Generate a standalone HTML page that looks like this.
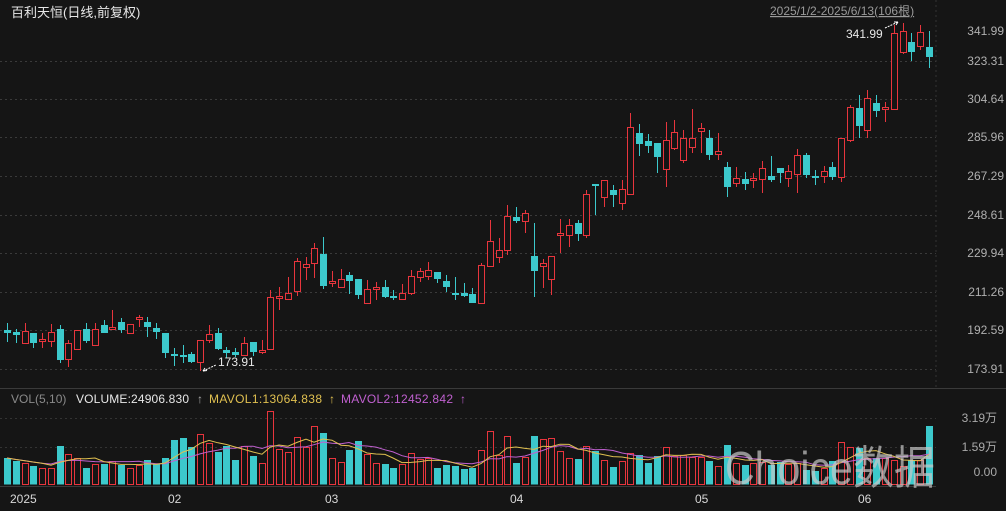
<!DOCTYPE html>
<html><head><meta charset="utf-8">
<style>
html,body{margin:0;padding:0;background:#151515;}
body{width:1006px;height:506px;overflow:hidden;font-family:"Liberation Sans","Noto Sans CJK SC",sans-serif;}
svg text{font-family:"Liberation Sans","Noto Sans CJK SC",sans-serif;}
</style></head>
<body>
<svg id="s" width="1006" height="506" xmlns="http://www.w3.org/2000/svg">
<rect width="1006" height="506" fill="#151515"/>
<g id="grid" stroke="#3a3a3a" stroke-dasharray="2,3" stroke-width="1"></g>
<line x1="936" y1="0" x2="936" y2="388" stroke="#333" stroke-dasharray="2,3"/>
<line x1="0" y1="388.5" x2="1006" y2="388.5" stroke="#3a3a3a"/>
<line x1="0" y1="486.5" x2="936" y2="486.5" stroke="#3a3a3a"/>
<line x1="0" y1="418.5" x2="936" y2="418.5" stroke="#333" stroke-dasharray="2,3"/>
<line x1="0" y1="447.5" x2="936" y2="447.5" stroke="#333" stroke-dasharray="2,3"/>
<text x="11" y="17" fill="#e8e8e8" font-size="13">百利天恒(日线,前复权)</text>
<text x="770" y="15" fill="#9a9a9a" font-size="12" text-decoration="underline">2025/1/2-2025/6/13(106根)</text>
<g id="axis" fill="#b0b0b0" font-size="12" text-anchor="end"></g>
<g id="vol"></g>
<g id="cand"></g>
<g id="ma" fill="none" stroke-width="1"></g>
<text x="218" y="366" fill="#e8e8e8" font-size="12">173.91</text>
<path d="M203 371 L216 365" stroke="#fff" stroke-dasharray="2,1" fill="none"/>
<path d="M203 371 l4 -0.5 M203 371 l2 -3" stroke="#fff"/>
<text x="846" y="38" fill="#e8e8e8" font-size="12">341.99</text>
<path d="M885 28 L898 22" stroke="#fff" stroke-dasharray="2,1" fill="none"/>
<path d="M898 22 l-4 0 M898 22 l-2 3" stroke="#fff"/>
<text x="11" y="403" fill="#8a8a8a" font-size="12">VOL(5,10)</text>
<text x="76" y="403" fill="#e8e8e8" font-size="12" textLength="113">VOLUME:24906.830</text>
<text x="197" y="403" fill="#aaa" font-size="12">↑</text>
<text x="209" y="403" fill="#e0c050" font-size="12" textLength="113">MAVOL1:13064.838</text>
<text x="329" y="403" fill="#e0c050" font-size="12">↑</text>
<text x="341" y="403" fill="#c060d0" font-size="12" textLength="112">MAVOL2:12452.842</text>
<text x="460" y="403" fill="#c060d0" font-size="12">↑</text>
<text x="997" y="422" fill="#aaa" font-size="12" text-anchor="end">3.19万</text>
<text x="997" y="451" fill="#aaa" font-size="12" text-anchor="end">1.59万</text>
<text x="997" y="476" fill="#aaa" font-size="12" text-anchor="end">0.00</text>
<g fill="#d8d8d8" font-size="12">
<text x="10" y="503">2025</text><text x="168" y="503">02</text><text x="325" y="503">03</text>
<text x="510" y="503">04</text><text x="695" y="503">05</text><text x="858" y="503">06</text>
</g>
<text x="725" y="484" fill="rgba(200,200,200,0.7)" font-size="46" textLength="210" lengthAdjust="spacingAndGlyphs">Choice数据</text>
</svg>
<script>
var C=[
['c',330,333,323,342],['c',332,335,329,343],['r',331,343,323,343],['c',333,343,333,348],['r',339,341,333,348],
['r',332,341,324,347],['c',329,360,325,363],['r',343,359,340,367],['r',330,349,330,349],['c',329,341,323,343],
['r',329,345,323,345],['c',325,333,320,333],['r',327,329,310,330],['c',322,330,318,333],['r',324,333,324,333],
['r',317,319,315,327],['c',322,327,317,337],['c',328,332,323,339],['c',333,353,333,358],['c',354,356,348,366],
['c',355,357,345,363],['c',354,362,352,363],['r',340,362,340,371],['r',334,340,325,343],['c',333,349,328,350],
['c',350,353,347,358],['c',352,355,348,357],['r',343,355,337,356],['c',342,352,342,356],['r',350,352,340,354],
['r',297,349,290,350],['r',296,298,287,310],['r',293,299,277,300],['r',261,291,258,296],['r',264,267,257,280],
['r',248,263,243,278],['c',254,286,237,289],['r',281,283,271,287],['r',279,287,269,288],['c',275,281,272,294],
['c',279,295,279,299],['r',289,303,280,303],['r',287,289,282,300],['c',287,297,280,298],['c',296,298,290,300],
['r',293,299,284,300],['r',276,293,270,295],['r',271,277,268,282],['r',270,276,262,280],['c',272,279,272,283],
['c',281,287,275,292],['c',293,295,277,300],['c',293,296,283,297],['c',294,303,288,303],['r',265,303,263,304],
['r',241,266,220,266],['r',250,257,238,263],['r',216,250,205,255],['c',217,221,207,223],['r',213,221,210,233],
['c',256,271,223,297],['r',263,266,259,288],['r',256,279,256,295],['r',233,235,219,253],['r',225,235,219,247],
['c',223,234,220,241],['r',194,235,190,238],['c',184,186,184,215],['r',180,197,180,207],['c',190,195,185,207],
['r',189,203,180,210],['r',127,194,113,194],['c',133,144,124,156],['c',141,146,134,153],['c',143,157,143,173],
['r',140,169,122,187],['r',132,148,120,150],['r',138,160,130,163],['r',138,147,109,153],['r',128,131,123,153],
['c',138,155,130,160],['r',151,154,133,160],['c',167,187,162,197],['r',178,183,167,187],['c',179,184,172,190],
['r',178,180,173,188],['r',168,179,161,193],['c',176,180,156,182],['c',168,173,168,183],['r',171,178,165,187],
['r',155,174,149,193],['c',155,175,153,178],['c',176,178,170,185],['r',171,176,166,183],['c',167,177,162,180],
['r',138,177,138,182],['r',107,140,105,142],['c',108,126,95,138],['r',98,130,90,138],['c',103,111,95,117],
['r',107,109,102,122],['r',33,109,25,110],['r',31,52,23,54],['c',42,52,33,61],['r',32,46,25,50],['c',47,57,31,68]];
var V=[458,461,463,466,468,468,446,454,458,468,464,464,461,465,468,465,460,464,458,440,438,447,434,443,452,446,460,446,456,463,411,449,452,437,447,426,433,458,462,450,441,454,463,464,468,464,453,459,458,468,465,466,469,
468,450,431,455,436,463,457,436,439,438,451,458,459,446,451,460,467,461,453,455,463,456,447,456,455,457,457,461,466,445,463,465,463,462,465,462,464,463,470,471,468,461,442,447,448,458,458,458,460,466,460,460,426];
var NS="http://www.w3.org/2000/svg";
function el(p,t,a){var e=document.createElementNS(NS,t);for(var k in a)e.setAttribute(k,a[k]);p.appendChild(e);return e;}
var RED="#e8353d",CY="#3cc9cc";
var g=document.getElementById('grid'),ax=document.getElementById('axis');
var labs=[["341.99",31,null],["323.31",61,61],["304.64",99,99],["285.96",137,137],["267.29",176,176],["248.61",215,215],["229.94",253,253],["211.26",292,292],["192.59",330,330],["173.91",369,369]];
labs.forEach(function(l){if(l[2]!==null)el(g,'line',{x1:0,x2:936,y1:l[2]+.5,y2:l[2]+.5});var t=el(ax,'text',{x:1004,y:l[1]+4});t.textContent=l[0];});
var cg=document.getElementById('cand'),vg=document.getElementById('vol');
var B=484;
C.forEach(function(d,i){var x=Math.round(7+i*8.78);var col=d[0]=='r'?RED:CY;
 el(cg,'line',{x1:x+.5,x2:x+.5,y1:d[3],y2:d[4],stroke:col});
 var h=Math.max(1,d[2]-d[1]);
 if(d[0]=='r')el(cg,'rect',{x:x-2.5,y:d[1]+.5,width:6,height:h,fill:'#151515',stroke:col});
 else el(cg,'rect',{x:x-3,y:d[1],width:7,height:h,fill:col});
 var vt=V[i];
 if(d[0]=='r')el(vg,'rect',{x:x-2.5,y:vt+.5,width:6,height:B-vt,fill:'none',stroke:RED});
 else el(vg,'rect',{x:x-3,y:vt,width:7,height:B-vt+.5,fill:col});
});
var mg=document.getElementById('ma');
function ma(n,col){var pts=[];for(var i=0;i<V.length;i++){var s=0,c=0;for(var j=Math.max(0,i-n+1);j<=i;j++){s+=B-V[j];c++;}pts.push(Math.round(7+i*8.78)+','+(B-s/c).toFixed(1));}
 el(mg,'polyline',{points:pts.join(' '),stroke:col});}
ma(10,'#c060d0');ma(5,'#e0c050');
</script>
</body></html>
